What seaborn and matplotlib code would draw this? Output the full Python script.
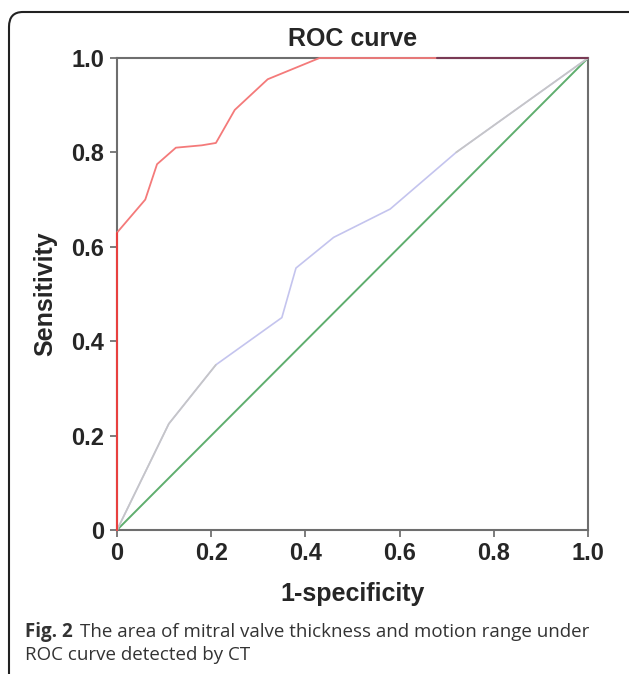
import matplotlib.pyplot as plt
import numpy as np
import pandas as pd
import seaborn as sns
from matplotlib.patches import FancyBboxPatch

# ROC data
fpr_thick = [0, 0, 0.06, 0.085, 0.125, 0.18, 0.21, 0.25, 0.32, 0.43, 0.68, 1.0]
tpr_thick = [0, 0.63, 0.70, 0.775, 0.81, 0.815, 0.82, 0.89, 0.955, 1.0, 1.0, 1.0]

fpr_motion = [0, 0.11, 0.21, 0.35, 0.38, 0.46, 0.58, 0.72, 1.0]
tpr_motion = [0, 0.225, 0.35, 0.45, 0.555, 0.62, 0.68, 0.80, 1.0]

ref_line = [0, 1.0]

ticks = [0, 0.2, 0.4, 0.6, 0.8, 1.0]
tick_labels = ['0', '0.2', '0.4', '0.6', '0.8', '1.0']

sns.set_style('white')
plt.rcParams['font.family'] = ['Liberation Sans', 'DejaVu Sans']

fig = plt.figure(figsize=(6.29, 6.74), dpi=100)
ax = fig.add_axes([117 / 629, 1 - 530 / 674, 471 / 629, 472 / 674])

kw = dict(ax=ax, sort=False, estimator=None, clip_on=False)

# reference diagonal
sns.lineplot(x=ref_line, y=ref_line, color='#5fae6e', lw=1.4, zorder=3, **kw)

# motion range curve (lavender in the middle, gray at the ends)
df_m = pd.DataFrame({'x': fpr_motion, 'y': tpr_motion})
sns.lineplot(data=df_m, x='x', y='y', color='#c4c4ee', lw=1.2, zorder=3, **kw)
sns.lineplot(data=df_m.iloc[:3], x='x', y='y', color='#c6c6c6', lw=1.2, zorder=3, **kw)
sns.lineplot(data=df_m.iloc[-2:], x='x', y='y', color='#c6c6c6', lw=1.2, zorder=3, **kw)

# thickness curve
df_t = pd.DataFrame({'x': fpr_thick, 'y': tpr_thick})
sns.lineplot(data=df_t.iloc[:-1], x='x', y='y', color='#f47a7a', lw=1.3, zorder=4, **kw)
sns.lineplot(data=df_t.iloc[:2], x='x', y='y', color='#e8403f', lw=1.5, zorder=4, **kw)
sns.lineplot(data=df_t.iloc[-2:], x='x', y='y', color='#7a3a55', lw=1.5, zorder=4, **kw)

ax.set_xlim(0, 1)
ax.set_ylim(0, 1)
ax.set_xticks(ticks)
ax.set_yticks(ticks)
ax.set_xticklabels(tick_labels, fontsize=17, fontweight='bold')
ax.set_yticklabels(tick_labels, fontsize=17, fontweight='bold')
ax.tick_params(axis='both', direction='out', length=5, width=1.2, color='#666666',
               bottom=True, left=True, pad=4)
for s in ax.spines.values():
    s.set_color('#6e6e6e')
    s.set_linewidth(1.5)
    s.set_zorder(2)

ax.set_xlabel('1-specificity', fontsize=18, fontweight='bold', labelpad=12)
ax.set_ylabel('Sensitivity', fontsize=18, fontweight='bold', labelpad=10)
ax.set_title('ROC curve', fontsize=18, fontweight='bold', pad=9)

# rounded border of the figure panel
border = FancyBboxPatch((9 / 629, -0.05), 1.2, 1 - 12 / 674 + 0.05,
                        boxstyle='round,pad=0,rounding_size=0.022',
                        transform=fig.transFigure, fill=False, ec='#222222', lw=1.5,
                        clip_on=False)
fig.patches.append(border)

cap_font = ['Open Sans', 'DejaVu Sans']
fig.text(25 / 629, 1 - 632 / 674, 'Fig. 2', fontsize=13.5, fontweight='bold',
         family=cap_font, color='#333333', va='center')
fig.text(80 / 629, 1 - 632 / 674,
         'The area of mitral valve thickness and motion range under',
         fontsize=13.5, family=cap_font, color='#333333', va='center')
fig.text(25 / 629, 1 - 655 / 674, 'ROC curve detected by CT', fontsize=13.5,
         family=cap_font, color='#333333', va='center')

fig.savefig('out.png', dpi=100)
